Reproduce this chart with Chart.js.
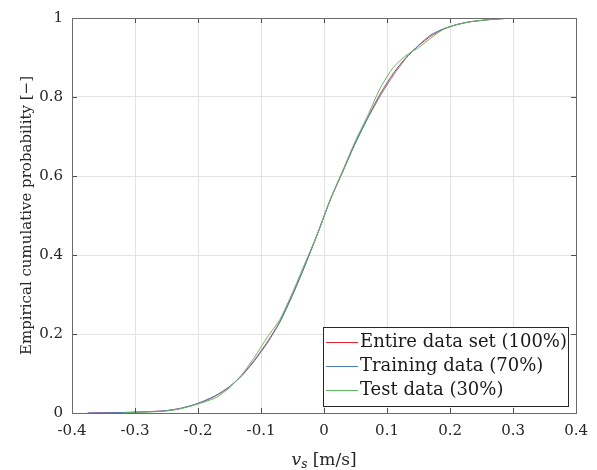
<!DOCTYPE html>
<html>
<head>
<meta charset="utf-8">
<script src="https://cdn.jsdelivr.net/npm/chart.js@4.4.1/dist/chart.umd.min.js"></script>
<style>
  html, body { margin: 0; padding: 0; background: #fff; }
  #wrap { width: 597px; height: 470px; }
</style>
</head>
<body>
<div id="wrap"><canvas id="chart" width="597" height="470"></canvas></div>
<script>
// ECDF of v_s
const xEntire = [-0.375, -0.33, -0.30, -0.27, -0.25, -0.23, -0.21, -0.19, -0.17, -0.15, -0.13, -0.11, -0.09, -0.07, -0.05, -0.03, -0.01, 0.01, 0.03, 0.05, 0.07, 0.09, 0.11, 0.13, 0.15, 0.17, 0.19, 0.21, 0.23, 0.25, 0.27, 0.29, 0.31, 0.33, 0.357]
const yEntire = [0, 0.001, 0.002, 0.004, 0.006, 0.011, 0.019, 0.030, 0.045, 0.066, 0.096, 0.135, 0.180, 0.232, 0.300, 0.375, 0.455, 0.540, 0.612, 0.685, 0.750, 0.810, 0.860, 0.900, 0.930, 0.955, 0.972, 0.983, 0.990, 0.994, 0.997, 0.999, 1, 1, 1]

const xTraining = xEntire
const yTraining = [0, 0.001, 0.002, 0.004, 0.006, 0.011, 0.019, 0.031, 0.046, 0.067, 0.095, 0.133, 0.177, 0.230, 0.298, 0.374, 0.456, 0.541, 0.613, 0.684, 0.748, 0.805, 0.855, 0.898, 0.931, 0.958, 0.973, 0.983, 0.990, 0.994, 0.997, 0.999, 1, 1, 1]

const xTest = [-0.32, -0.30, -0.27, -0.25, -0.23, -0.21, -0.19, -0.17, -0.15, -0.13, -0.11, -0.09, -0.07, -0.05, -0.03, -0.01, 0.01, 0.03, 0.05, 0.07, 0.09, 0.11, 0.13, 0.15, 0.17, 0.19, 0.21, 0.23, 0.25, 0.27, 0.29, 0.31, 0.357]
const yTest = [0, 0.002, 0.003, 0.005, 0.010, 0.018, 0.028, 0.040, 0.064, 0.098, 0.142, 0.192, 0.237, 0.305, 0.380, 0.455, 0.540, 0.615, 0.690, 0.755, 0.825, 0.875, 0.905, 0.925, 0.950, 0.972, 0.983, 0.990, 0.994, 0.997, 0.999, 1, 1]

const seriesNames = ['Entire data set (100%)', 'Training data (70%)', 'Test data (30%)']
const seriesColors = ['#f0262c', '#4a7ec4', '#5dba5a']

const xTicks = [-0.4, -0.3, -0.2, -0.1, 0, 0.1, 0.2, 0.3, 0.4]
const yTicks = [0, 0.2, 0.4, 0.6, 0.8, 1]

const serif = "'DejaVu Serif', 'Liberation Serif', serif"
const pts = (xs, ys) => xs.map((x, i) => ({x: x, y: ys[i]}))
const fmt = v => Math.abs(v) < 1e-9 ? '0' : (Math.abs(v - Math.round(v)) < 1e-9 ? String(Math.round(v)) : v.toFixed(1))

// matlab style box, inward ticks, legend and x label
const matlabBox = {
  id: 'matlabBox',
  afterDraw(chart) {
    const {ctx, chartArea: a, scales} = chart
    ctx.save()
    ctx.strokeStyle = '#4d4d4d'
    ctx.lineWidth = 1
    ctx.beginPath()
    xTicks.forEach(t => {
      const px = Math.round(scales.x.getPixelForValue(t)) + 0.5
      ctx.moveTo(px, a.bottom); ctx.lineTo(px, a.bottom - 5)
      ctx.moveTo(px, a.top); ctx.lineTo(px, a.top + 5)
    })
    yTicks.forEach(t => {
      const py = Math.round(scales.y.getPixelForValue(t)) + 0.5
      ctx.moveTo(a.left, py); ctx.lineTo(a.left + 5, py)
      ctx.moveTo(a.right, py); ctx.lineTo(a.right - 5, py)
    })
    ctx.stroke()
    ctx.strokeStyle = '#6b6b6b'
    ctx.strokeRect(Math.round(a.left) + 0.5, Math.round(a.top) + 0.5, Math.round(a.right - a.left), Math.round(a.bottom - a.top))

    // legend
    const lx = 323.5, ly = 327.5, lw = 245, lh = 79
    ctx.fillStyle = '#fff'
    ctx.fillRect(lx, ly, lw, lh)
    ctx.strokeStyle = '#262626'
    ctx.strokeRect(lx, ly, lw, lh)
    ctx.font = '18px ' + serif
    ctx.textBaseline = 'middle'
    chart.data.datasets.forEach((ds, i) => {
      const cy = 342 + i * 24
      ctx.strokeStyle = ds.borderColor
      ctx.beginPath()
      ctx.moveTo(326, cy + 0.5); ctx.lineTo(358, cy + 0.5)
      ctx.stroke()
      ctx.fillStyle = '#1a1a1a'
      ctx.fillText(ds.label, 360, cy)
    })

    // x label: italic v with subscript s
    const fV = 'italic 17px ' + serif, fS = 'italic 12px ' + serif, fR = '17px ' + serif
    const rest = ' [m/s]'
    ctx.font = fV; const wV = ctx.measureText('v').width
    ctx.font = fS; const wS = ctx.measureText('s').width
    ctx.font = fR; const wR = ctx.measureText(rest).width
    let x0 = (a.left + a.right) / 2 - (wV + wS + wR) / 2
    const yb = 465
    ctx.textBaseline = 'alphabetic'
    ctx.fillStyle = '#262626'
    ctx.font = fV; ctx.fillText('v', x0, yb); x0 += wV
    ctx.font = fS; ctx.fillText('s', x0, yb + 3); x0 += wS
    ctx.font = fR; ctx.fillText(rest, x0, yb)
    ctx.restore()
  }
}

const datasets = [
  pts(xEntire, yEntire),
  pts(xTraining, yTraining),
  pts(xTest, yTest)
].map((d, i) => ({
  label: seriesNames[i],
  data: d,
  borderColor: seriesColors[i],
  backgroundColor: seriesColors[i],
  borderWidth: 1,
  pointRadius: 0,
  fill: false,
  tension: 0.2,
  order: 2 - i
}))

new Chart(document.getElementById('chart'), {
  type: 'line',
  data: {datasets: datasets},
  plugins: [matlabBox],
  options: {
    responsive: false,
    animation: false,
    layout: {padding: {left: 0, right: 20, top: 15, bottom: 0}},
    plugins: {legend: {display: false}, tooltip: {enabled: false}},
    scales: {
      x: {
        type: 'linear',
        min: -0.4, max: 0.4,
        afterBuildTicks: s => { s.ticks = xTicks.map(v => ({value: v})) },
        afterFit: s => { s.height = 57 },
        grid: {color: '#e3e3e3', drawTicks: false},
        border: {display: false},
        ticks: {padding: 9, color: '#262626', font: {family: serif, size: 15}, callback: fmt, maxRotation: 0},
        title: {display: false}
      },
      y: {
        min: 0, max: 1,
        afterBuildTicks: s => { s.ticks = yTicks.map(v => ({value: v})) },
        afterFit: s => { s.width = 72 },
        grid: {color: '#e3e3e3', drawTicks: false},
        border: {display: false},
        ticks: {padding: 9, color: '#262626', font: {family: serif, size: 15}, callback: fmt},
        title: {display: true, text: 'Empirical cumulative probability [−]', color: '#262626', font: {family: serif, size: 15}, padding: {top: 18, bottom: 0}}
      }
    }
  }
})
</script>
</body>
</html>
